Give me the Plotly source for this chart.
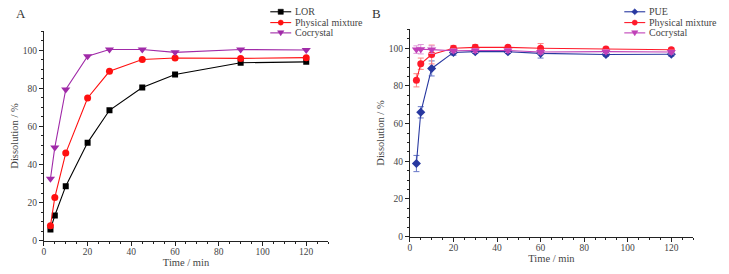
import plotly.graph_objects as go

time = [3, 5, 10, 20, 30, 45, 60, 90, 120]

# Panel A
lor = [5.8, 13.2, 28.6, 51.5, 68.5, 80.5, 87.3, 93.5, 94.0]
pm_a = [7.8, 22.7, 46.0, 75.0, 89.0, 95.2, 96.0, 95.8, 96.2]
co_a = [32.5, 49.0, 79.5, 97.0, 100.5, 100.5, 99.0, 100.5, 100.2]

# Panel B
pue = [38.8, 66.0, 89.3, 97.8, 98.2, 98.2, 97.3, 96.7, 96.8]
pue_err = [4.3, 3.0, 4.0, 1.5, 1.0, 1.0, 2.5, 1.0, 1.0]
pm_b = [83.0, 91.8, 96.7, 100.0, 100.5, 100.5, 100.0, 99.6, 99.2]
pm_b_err = [3.5, 3.0, 5.0, 1.5, 1.5, 1.0, 2.5, 1.0, 1.0]
co_b = [99.3, 99.5, 99.3, 98.7, 98.8, 98.8, 98.0, 98.2, 98.0]
co_b_err = [2.0, 2.5, 2.0, 1.0, 1.0, 1.0, 1.0, 1.0, 1.0]

names_a = ["LOR", "Physical mixture", "Cocrystal"]
names_b = ["PUE", "Physical mixture", "Cocrystal"]

FONT = "Times New Roman, Liberation Serif, Tinos, serif"
TXT = "#444444"
W, H = 729, 274

fig = go.Figure()

def add(x, y, name, color, symbol, size, xa, ya, err=None, errcolor=None):
    kw = {}
    if err is not None:
        kw["error_y"] = dict(type="data", array=err, visible=True, color=errcolor,
                             thickness=1, width=3)
    fig.add_trace(go.Scatter(x=x, y=y, name=name, mode="lines+markers",
                             line=dict(color=color, width=1.1),
                             marker=dict(color=color, symbol=symbol, size=size),
                             xaxis=xa, yaxis=ya, showlegend=False, **kw))

styles_a = [("#000000", "square", 6), ("#ff1010", "circle", 7), ("#a02aa8", "triangle-down", 8)]
styles_b = [("#2838a0", "diamond", 7), ("#ff1a2a", "circle", 7), ("#c040b8", "triangle-down", 8)]

for yv, nm, st in zip([lor, pm_a, co_a], names_a, styles_a):
    add(time, yv, nm, st[0], st[1], st[2], "x", "y")
for yv, er, nm, st, ec in zip([pue, pm_b, co_b], [pue_err, pm_b_err, co_b_err], names_b, styles_b,
                              ["#6878c8", "#ff8080", "#e098d8"]):
    add(time, yv, nm, st[0], st[1], st[2], "x2", "y2", er, ec)

axis_common = dict(showline=True, linecolor="#222222", linewidth=1, ticks="outside",
                   ticklen=4, tickwidth=1, tickcolor="#222222", showgrid=False, zeroline=False,
                   tickfont=dict(family=FONT, size=9.5, color=TXT),
                   minor=dict(ticks="outside", ticklen=2, tickcolor="#222222", showgrid=False),
                   mirror=False)

xax = dict(range=[0, 130], tick0=0, dtick=20, ticklabelstandoff=-2, **axis_common,
           title=dict(text="Time / min", font=dict(family=FONT, size=10.5, color=TXT), standoff=1))
yax = dict(range=[0, 110], tick0=0, dtick=20, **axis_common,
           title=dict(text="Dissolution / %", font=dict(family=FONT, size=10.5, color=TXT), standoff=2))

# manual legends (pixel helpers)
def px(x):
    return x / W

def py(y):
    return 1 - y / H

shapes = []
annotations = []

def marker_shape(sym, cx, cy, color, s=2.6):
    if sym == "square":
        return dict(type="rect", x0=px(cx - s), x1=px(cx + s), y0=py(cy - s), y1=py(cy + s))
    if sym == "circle":
        return dict(type="circle", x0=px(cx - s), x1=px(cx + s), y0=py(cy - s), y1=py(cy + s))
    if sym == "triangle-down":
        p = f"M {px(cx - s - 0.6)} {py(cy - s + 0.4)} L {px(cx + s + 0.6)} {py(cy - s + 0.4)} L {px(cx)} {py(cy + s + 0.4)} Z"
        return dict(type="path", path=p)
    if sym == "diamond":
        p = f"M {px(cx)} {py(cy - s - 0.5)} L {px(cx + s + 0.5)} {py(cy)} L {px(cx)} {py(cy + s + 0.5)} L {px(cx - s - 0.5)} {py(cy)} Z"
        return dict(type="path", path=p)

def legend(x0, names, styles):
    rows = [12, 23, 33.5]
    for r, nm, st in zip(rows, names, styles):
        shapes.append(dict(type="line", xref="paper", yref="paper", x0=px(x0), x1=px(x0 + 21),
                           y0=py(r), y1=py(r), line=dict(color=st[0], width=1.1)))
        m = marker_shape(st[1], x0 + 10.5, r, st[0])
        m.update(xref="paper", yref="paper", fillcolor=st[0], line=dict(color=st[0], width=0.5))
        shapes.append(m)
        annotations.append(dict(text=nm, x=px(x0 + 23), y=py(r), xref="paper", yref="paper",
                                showarrow=False, xanchor="left", yanchor="middle",
                                font=dict(family=FONT, size=10, color=TXT)))

legend(269, names_a, styles_a)
legend(624, names_b, styles_b)

annotations += [
    dict(text="A", x=px(12), y=py(14), xref="paper", yref="paper", showarrow=False,
         xanchor="left", yanchor="middle", font=dict(family=FONT, size=13, color="#333")),
    dict(text="B", x=px(369), y=py(14), xref="paper", yref="paper", showarrow=False,
         xanchor="left", yanchor="middle", font=dict(family=FONT, size=13, color="#333")),
]

fig.update_layout(
    width=W, height=H,
    margin=dict(l=0, r=0, t=0, b=0),
    paper_bgcolor="white", plot_bgcolor="white",
    showlegend=False,
    xaxis=dict(domain=[42/W, 327/W], anchor="y", **xax),
    yaxis=dict(domain=[1-245/H, 1-32/H], anchor="x", **yax),
    xaxis2=dict(domain=[409/W, 693/W], anchor="y2", **xax),
    yaxis2=dict(domain=[1-241/H, 1-30/H], anchor="x2", **yax),
    shapes=shapes,
    annotations=annotations,
)

fig.write_html("out.html", config={"displayModeBar": False},
               post_script="document.body.style.margin='0';")
